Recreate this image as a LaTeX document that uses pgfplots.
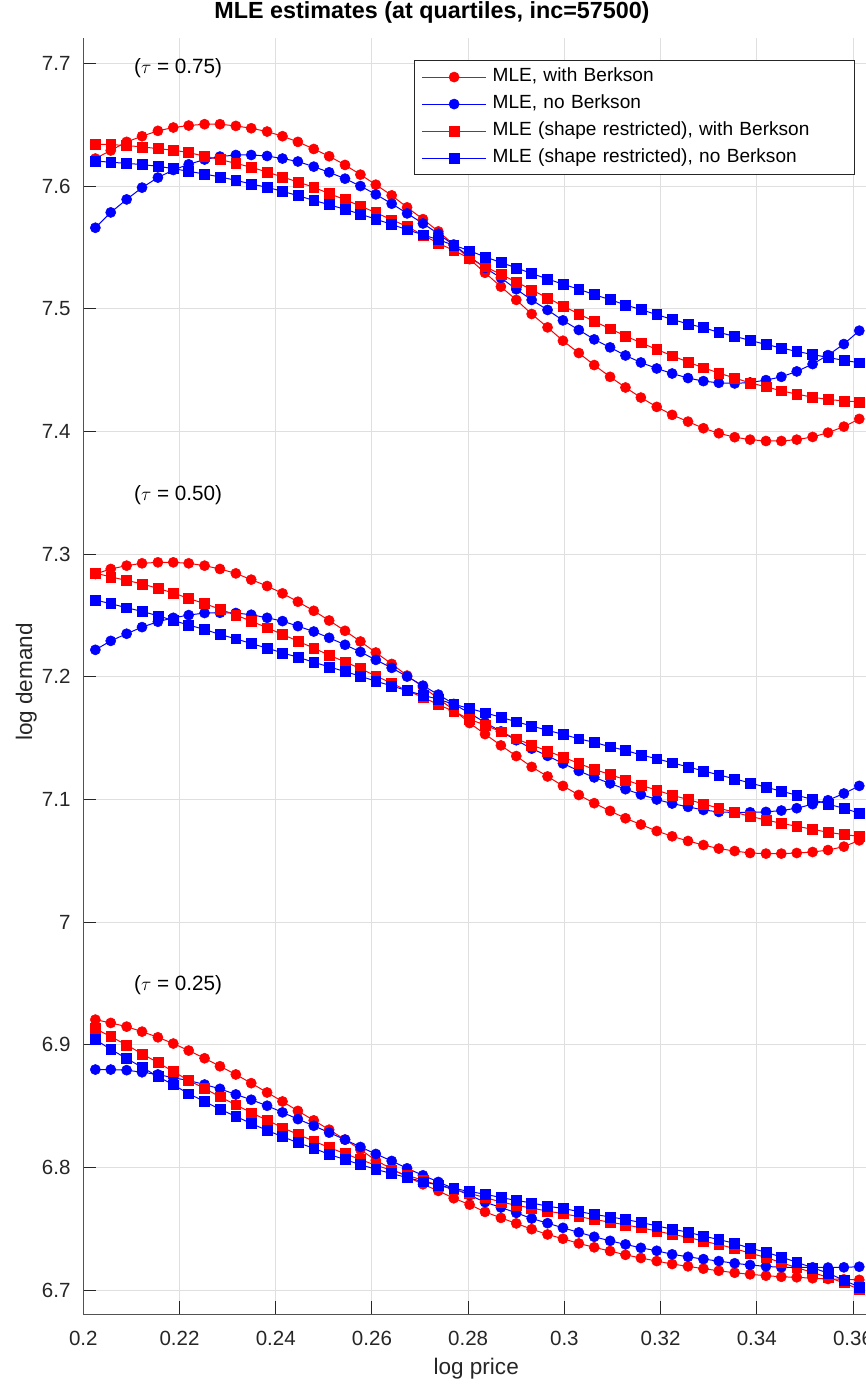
\documentclass[border=0pt]{standalone}
\usepackage{fontspec}
\setmainfont{Liberation Sans}
\usepackage{pgfplots}
\usepackage{pgfplotstable}
\pgfplotsset{compat=1.18}

\definecolor{axgray}{rgb}{0.15,0.15,0.15}
\definecolor{gridgray}{rgb}{0.875,0.875,0.875}

% tau = 0.75 : rc = MLE with Berkson, bc = MLE no Berkson, rs/bs = shape restricted
\pgfplotstableread{
x rc bc rs bs
0.2025 7.6224 7.5660 7.6341 7.6204
0.2057 7.6290 7.5785 7.6338 7.6194
0.2090 7.6360 7.5891 7.6330 7.6185
0.2122 7.6406 7.5987 7.6319 7.6175
0.2155 7.6450 7.6069 7.6305 7.6161
0.2187 7.6477 7.6131 7.6292 7.6142
0.2219 7.6493 7.6177 7.6273 7.6120
0.2252 7.6504 7.6216 7.6243 7.6098
0.2284 7.6504 7.6240 7.6216 7.6074
0.2317 7.6490 7.6253 7.6185 7.6047
0.2349 7.6471 7.6253 7.6153 7.6016
0.2382 7.6444 7.6245 7.6114 7.5990
0.2414 7.6406 7.6224 7.6074 7.5957
0.2446 7.6360 7.6200 7.6033 7.5922
0.2479 7.6302 7.6158 7.5990 7.5883
0.2511 7.6243 7.6112 7.5938 7.5848
0.2544 7.6172 7.6060 7.5889 7.5810
0.2576 7.6093 7.6000 7.5837 7.5771
0.2608 7.6011 7.5932 7.5783 7.5730
0.2641 7.5924 7.5856 7.5725 7.5687
0.2673 7.5826 7.5777 7.5671 7.5644
0.2706 7.5730 7.5695 7.5600 7.5603
0.2738 7.5630 7.5611 7.5534 7.5562
0.2770 7.5524 7.5518 7.5475 7.5518
0.2803 7.5404 7.5425 7.5410 7.5472
0.2835 7.5293 7.5333 7.5344 7.5423
0.2868 7.5180 7.5252 7.5279 7.5377
0.2900 7.5072 7.5159 7.5219 7.5333
0.2932 7.4957 7.5072 7.5154 7.5287
0.2965 7.4848 7.4990 7.5088 7.5243
0.2997 7.4739 7.4905 7.5023 7.5200
0.3030 7.4639 7.4827 7.4957 7.5159
0.3062 7.4541 7.4750 7.4897 7.5115
0.3095 7.4445 7.4685 7.4837 7.5074
0.3127 7.4358 7.4619 7.4778 7.5031
0.3159 7.4276 7.4562 7.4723 7.4993
0.3192 7.4200 7.4513 7.4668 7.4952
0.3224 7.4135 7.4472 7.4617 7.4913
0.3257 7.4080 7.4435 7.4565 7.4876
0.3289 7.4026 7.4410 7.4519 7.4846
0.3321 7.3985 7.4396 7.4476 7.4807
0.3354 7.3953 7.4391 7.4435 7.4775
0.3386 7.3933 7.4399 7.4396 7.4742
0.3419 7.3922 7.4418 7.4364 7.4709
0.3451 7.3922 7.4445 7.4331 7.4680
0.3483 7.3933 7.4489 7.4304 7.4652
0.3516 7.3955 7.4549 7.4279 7.4627
0.3548 7.3990 7.4622 7.4260 7.4603
0.3581 7.4039 7.4712 7.4249 7.4579
0.3613 7.4102 7.4821 7.4241 7.4560
}\tabC

% tau = 0.50
\pgfplotstableread{
x rc bc rs bs
0.2025 7.2838 7.2220 7.2846 7.2626
0.2057 7.2879 7.2293 7.2814 7.2596
0.2090 7.2906 7.2351 7.2786 7.2563
0.2122 7.2925 7.2405 7.2757 7.2533
0.2155 7.2933 7.2449 7.2721 7.2498
0.2187 7.2933 7.2481 7.2683 7.2459
0.2219 7.2925 7.2503 7.2639 7.2422
0.2252 7.2906 7.2520 7.2596 7.2386
0.2284 7.2879 7.2522 7.2552 7.2345
0.2317 7.2843 7.2520 7.2503 7.2310
0.2349 7.2792 7.2506 7.2454 7.2271
0.2382 7.2740 7.2481 7.2400 7.2234
0.2414 7.2680 7.2454 7.2345 7.2195
0.2446 7.2612 7.2413 7.2291 7.2160
0.2479 7.2538 7.2369 7.2234 7.2119
0.2511 7.2459 7.2318 7.2176 7.2081
0.2544 7.2375 7.2261 7.2122 7.2043
0.2576 7.2288 7.2203 7.2067 7.2005
0.2608 7.2198 7.2138 7.2007 7.1964
0.2641 7.2105 7.2073 7.1948 7.1926
0.2673 7.2010 7.2002 7.1887 7.1887
0.2706 7.1917 7.1928 7.1833 7.1850
0.2738 7.1822 7.1855 7.1773 7.1817
0.2770 7.1730 7.1779 7.1719 7.1776
0.2803 7.1623 7.1703 7.1653 7.1742
0.2835 7.1533 7.1628 7.1607 7.1707
0.2868 7.1441 7.1555 7.1552 7.1670
0.2900 7.1354 7.1483 7.1495 7.1634
0.2932 7.1266 7.1415 7.1444 7.1599
0.2965 7.1188 7.1356 7.1395 7.1564
0.2997 7.1111 7.1294 7.1346 7.1531
0.3030 7.1037 7.1233 7.1294 7.1495
0.3062 7.0970 7.1180 7.1245 7.1466
0.3095 7.0907 7.1131 7.1204 7.1430
0.3127 7.0847 7.1084 7.1160 7.1400
0.3159 7.0796 7.1041 7.1117 7.1364
0.3192 7.0743 7.1000 7.1076 7.1332
0.3224 7.0700 7.0967 7.1035 7.1299
0.3257 7.0662 7.0940 7.1000 7.1266
0.3289 7.0629 7.0915 7.0964 7.1233
0.3321 7.0600 7.0899 7.0929 7.1201
0.3354 7.0580 7.0894 7.0896 7.1168
0.3386 7.0564 7.0896 7.0863 7.1135
0.3419 7.0559 7.0899 7.0833 7.1100
0.3451 7.0559 7.0910 7.0806 7.1068
0.3483 7.0564 7.0929 7.0782 7.1035
0.3516 7.0572 7.0962 7.0757 7.1000
0.3548 7.0588 7.0994 7.0733 7.0962
0.3581 7.0616 7.1049 7.0714 7.0929
0.3613 7.0667 7.1111 7.0700 7.0888
}\tabB

% tau = 0.25
\pgfplotstableread{
x rc bc rs bs
0.2025 6.9206 6.8799 6.9133 6.9043
0.2057 6.9179 6.8799 6.9067 6.8964
0.2090 6.9149 6.8794 6.9000 6.8889
0.2122 6.9108 6.8777 6.8927 6.8818
0.2155 6.9062 6.8759 6.8856 6.8742
0.2187 6.9011 6.8732 6.8783 6.8675
0.2219 6.8954 6.8710 6.8710 6.8602
0.2252 6.8891 6.8677 6.8645 6.8539
0.2284 6.8826 6.8642 6.8577 6.8476
0.2317 6.8759 6.8596 6.8512 6.8417
0.2349 6.8688 6.8553 6.8447 6.8360
0.2382 6.8612 6.8504 6.8387 6.8303
0.2414 6.8539 6.8450 6.8325 6.8252
0.2446 6.8462 6.8395 6.8271 6.8203
0.2479 6.8385 6.8341 6.8216 6.8157
0.2511 6.8309 6.8285 6.8163 6.8108
0.2544 6.8228 6.8228 6.8114 6.8065
0.2576 6.8147 6.8168 6.8065 6.8024
0.2608 6.8059 6.8111 6.8019 6.7986
0.2641 6.7990 6.8054 6.7978 6.7951
0.2673 6.7925 6.7994 6.7937 6.7919
0.2706 6.7864 6.7937 6.7897 6.7885
0.2738 6.7810 6.7883 6.7856 6.7857
0.2770 6.7750 6.7829 6.7821 6.7830
0.2803 6.7698 6.7775 6.7789 6.7805
0.2835 6.7639 6.7718 6.7756 6.7783
0.2868 6.7590 6.7675 6.7720 6.7756
0.2900 6.7545 6.7631 6.7692 6.7732
0.2932 6.7498 6.7585 6.7670 6.7712
0.2965 6.7455 6.7547 6.7645 6.7685
0.2997 6.7420 6.7509 6.7625 6.7667
0.3030 6.7382 6.7472 6.7600 6.7642
0.3062 6.7350 6.7436 6.7577 6.7618
0.3095 6.7320 6.7403 6.7555 6.7598
0.3127 6.7289 6.7374 6.7533 6.7577
0.3159 6.7263 6.7346 6.7510 6.7553
0.3192 6.7238 6.7322 6.7483 6.7525
0.3224 6.7214 6.7293 6.7456 6.7498
0.3257 6.7195 6.7273 6.7432 6.7474
0.3289 6.7176 6.7254 6.7400 6.7441
0.3321 6.7159 6.7238 6.7373 6.7414
0.3354 6.7143 6.7220 6.7340 6.7382
0.3386 6.7130 6.7206 6.7302 6.7343
0.3419 6.7119 6.7195 6.7268 6.7311
0.3451 6.7110 6.7187 6.7225 6.7270
0.3483 6.7106 6.7187 6.7185 6.7229
0.3516 6.7098 6.7187 6.7145 6.7183
0.3548 6.7092 6.7185 6.7105 6.7141
0.3581 6.7089 6.7187 6.7061 6.7081
0.3613 6.7085 6.7192 6.7007 6.7027
}\tabA

\pgfplotsset{
  rc/.style={color=red, line width=0.75pt, mark=*, mark size=3.8pt, mark options={fill=red, draw=red, line width=0.4pt}},
  bc/.style={color=blue, line width=0.75pt, mark=*, mark size=3.8pt, mark options={fill=blue, draw=blue, line width=0.4pt}},
  rs/.style={color=red, line width=0.75pt, mark=square*, mark size=3.7pt, mark options={fill=red, draw=red, line width=0.4pt}},
  bs/.style={color=blue, line width=0.75pt, mark=square*, mark size=3.7pt, mark options={fill=blue, draw=blue, line width=0.4pt}},
}

\begin{document}
\begin{tikzpicture}
\begin{axis}[
  at={(0pt,0pt)}, anchor=south west,
  scale only axis, width=587pt, height=957pt,
  xmin=0.2, xmax=0.3627, ymin=6.6804, ymax=7.7204,
  axis lines*=left,
  x axis line style={-, draw=axgray!80, line width=0.9pt},
  y axis line style={-, draw=axgray!80, line width=0.9pt},
  tick align=inside, major tick length=9.75pt,
  tick style={draw=axgray, line width=0.75pt},
  xtick={0.2,0.22,0.24,0.26,0.28,0.3,0.32,0.34,0.36},
  xticklabels={0.2,0.22,0.24,0.26,0.28,0.3,0.32,0.34,0.36},
  ytick={6.7,6.8,6.9,7,7.1,7.2,7.3,7.4,7.5,7.6,7.7},
  yticklabels={6.7,6.8,6.9,7,7.1,7.2,7.3,7.4,7.5,7.6,7.7},
  ticklabel style={font=\fontsize{15.4}{18}\selectfont, text=axgray},
  xticklabel style={anchor=base, inner sep=0pt, yshift=-23pt},
  yticklabel style={anchor=east, inner sep=0pt, xshift=-9.4pt},
  grid=major,
  major grid style={draw=gridgray, line width=0.7pt},
  title={\bfseries MLE estimates (at quartiles, inc=57500)},
  title style={at={(axis description cs:0.4455,1)}, anchor=base, yshift=9.2pt, font=\fontsize{17.5}{20}\selectfont, text=black, inner sep=0pt},
  xlabel={log price},
  xlabel style={at={(axis description cs:0.502,0)}, anchor=base, yshift=-44.8pt, font=\fontsize{16.9}{20}\selectfont, text=axgray, inner sep=0pt},
  ylabel={log demand},
  ylabel style={at={(axis description cs:-0.0655,0.4955)}, rotate=0, anchor=base, font=\fontsize{16.9}{20}\selectfont, text=axgray, inner sep=0pt},
  legend image code/.code={\draw[mark repeat=2,mark phase=2] plot coordinates {(0pt,0pt) (24pt,0pt) (48pt,0pt)};},
  legend cell align=left,
  legend style={
    at={(0.986,0.983)}, anchor=north east,
    draw=axgray, line width=0.6pt, fill=white,
    font=\fontsize{14.3}{17}\selectfont,
    inner sep=5.5pt, row sep=6.25pt,
    nodes={inner sep=0pt, text height=10.5pt, text depth=3.5pt, text width=266pt, align=left},
    /tikz/every odd column/.append style={column sep=4.5pt},
  },
]
\addplot[rc] table[x=x,y=rc] {\tabC}; \addlegendentry{MLE, with Berkson}
\addplot[bc] table[x=x,y=bc] {\tabC}; \addlegendentry{MLE, no Berkson}
\addplot[rs] table[x=x,y=rs] {\tabC}; \addlegendentry{MLE (shape restricted), with Berkson}
\addplot[bs] table[x=x,y=bs] {\tabC}; \addlegendentry{MLE (shape restricted), no Berkson}

\addplot[rc, forget plot] table[x=x,y=rc] {\tabB};
\addplot[bc, forget plot] table[x=x,y=bc] {\tabB};
\addplot[rs, forget plot] table[x=x,y=rs] {\tabB};
\addplot[bs, forget plot] table[x=x,y=bs] {\tabB};

\addplot[rc, forget plot] table[x=x,y=rc] {\tabA};
\addplot[bc, forget plot] table[x=x,y=bc] {\tabA};
\addplot[rs, forget plot] table[x=x,y=rs] {\tabA};
\addplot[bs, forget plot] table[x=x,y=bs] {\tabA};

\node[font=\fontsize{15.5}{18}\selectfont, text=black, inner sep=0pt] at (axis cs:0.2197,7.6962) {($\tau$ = 0.75)};
\node[font=\fontsize{15.5}{18}\selectfont, text=black, inner sep=0pt] at (axis cs:0.2197,7.3483) {($\tau$ = 0.50)};
\node[font=\fontsize{15.5}{18}\selectfont, text=black, inner sep=0pt] at (axis cs:0.2197,6.9489) {($\tau$ = 0.25)};
\end{axis}
\pgfresetboundingbox
\path (-62.5pt,-53pt) rectangle (587pt,985.75pt);
\end{tikzpicture}
\end{document}
